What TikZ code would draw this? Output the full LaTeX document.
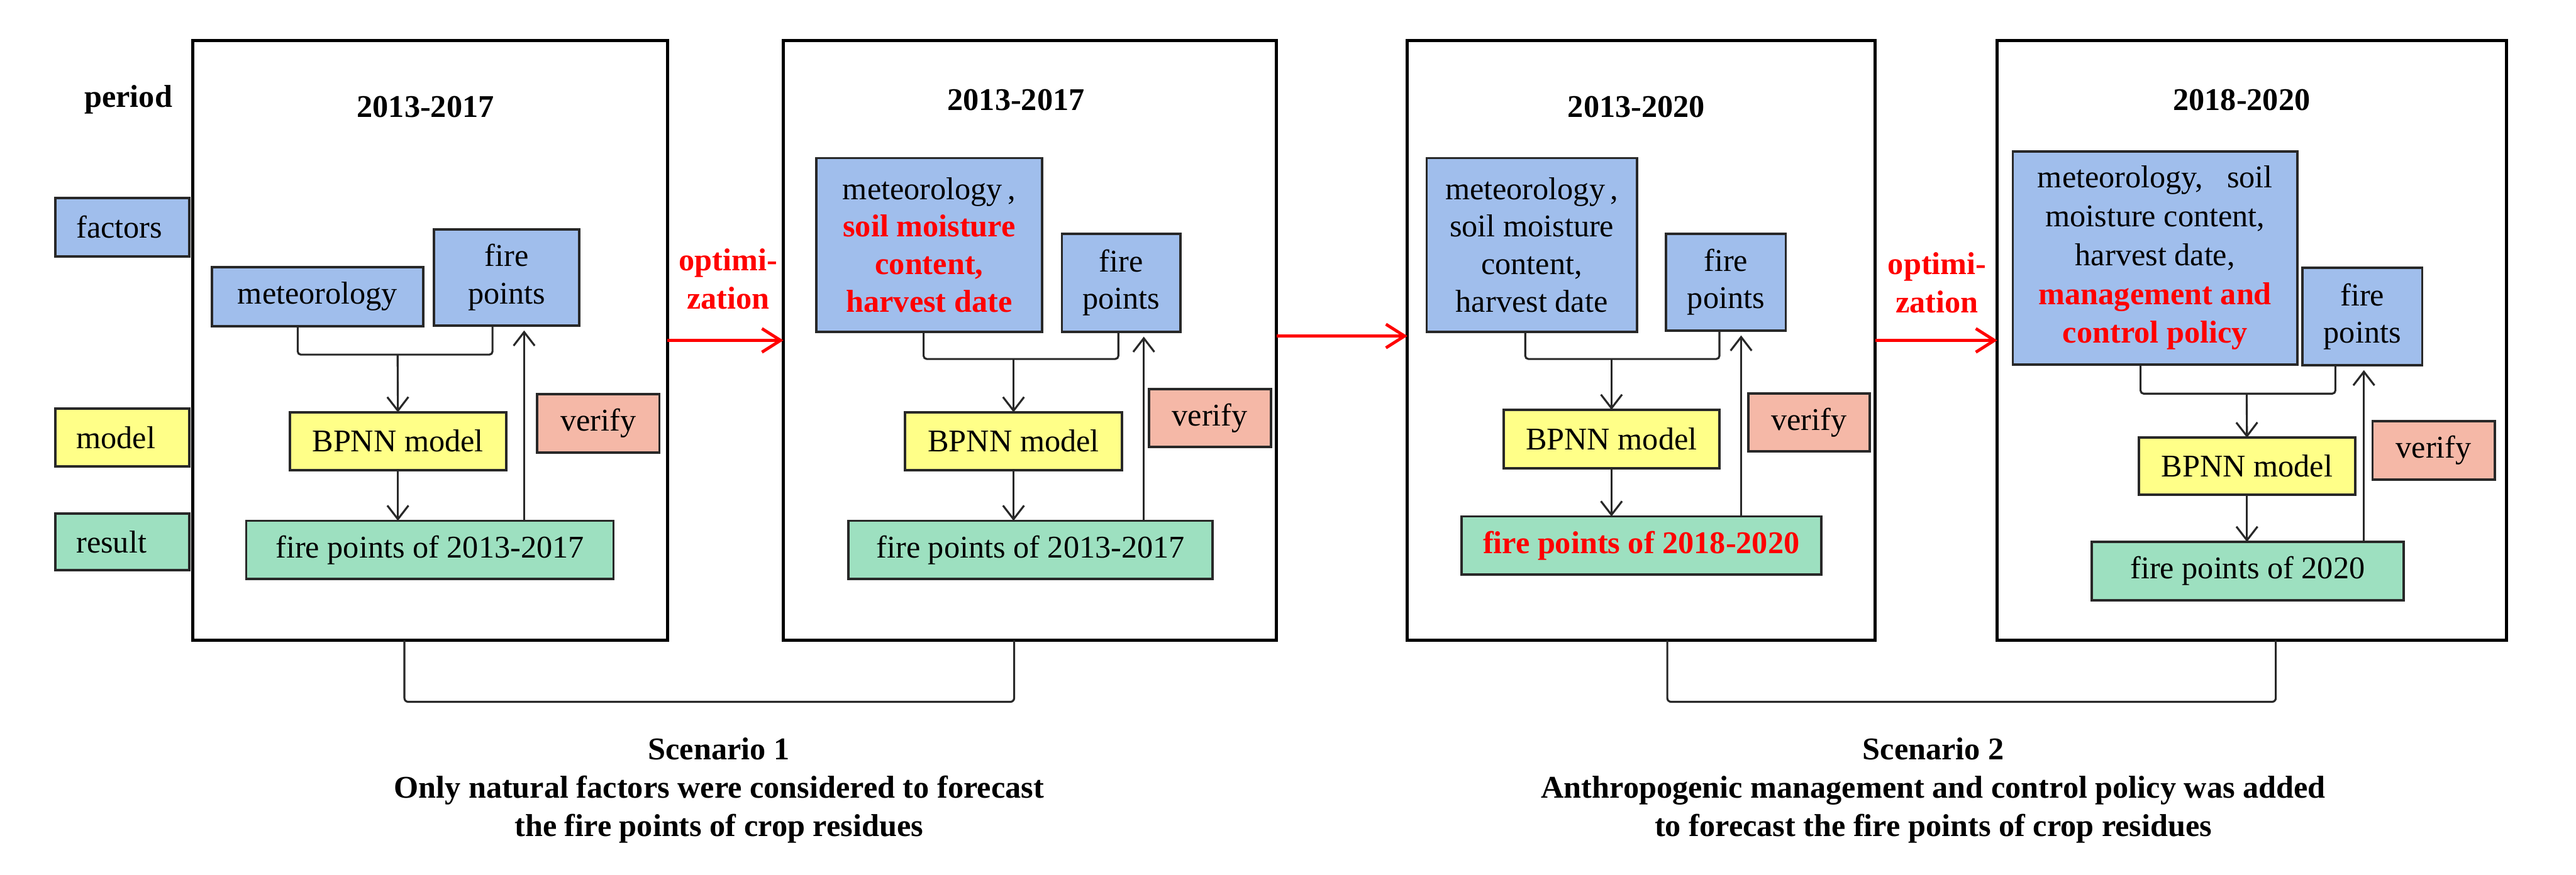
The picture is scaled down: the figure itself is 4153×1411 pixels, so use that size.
\documentclass[tikz,border=0pt]{standalone}
\usepackage{fontspec}
\setmainfont{Liberation Serif}
\usetikzlibrary{arrows.meta}
\definecolor{blueF}{RGB}{160,190,236}
\definecolor{yellowF}{RGB}{255,255,136}
\definecolor{pinkF}{RGB}{245,184,167}
\definecolor{greenF}{RGB}{157,224,192}
\definecolor{edgeC}{RGB}{40,40,40}
\newcommand{\rbox}[7]{\node[#2, minimum width={(#5-#3)*0.01cm}, minimum height={(#6-#4)*0.01cm}] (#1) at ({(#3+#5)/2},{(#4+#6)/2}) {#7};}
\tikzset{
  frame/.style={draw=black, line width=1.4pt, inner sep=0pt, outer sep=0pt},
  bx/.style={draw=edgeC, line width=1.1pt, inner sep=0pt, outer sep=0pt, align=center},
  fac/.style={bx, fill=blueF},
  mdl/.style={bx, fill=yellowF},
  rsl/.style={bx, fill=greenF},
  ver/.style={bx, fill=pinkF},
  leg/.style={text width=1.48cm, inner xsep=0.34cm, inner ysep=0pt, align=left},
  conn/.style={draw=edgeC, line width=0.9pt},
  arr/.style={conn, -{Straight Barb[length=0.22cm,width=0.34cm]}},
  redarr/.style={draw=red, line width=1.4pt, -{Straight Barb[length=0.3cm,width=0.38cm]}},
  ttl/.style={font=\fontsize{14.5pt}{17.6pt}\selectfont\bfseries},
  redtxt/.style={text=red, font=\fontsize{14.5pt}{17.6pt}\selectfont\bfseries, align=center},
  scen/.style={font=\fontsize{14.5pt}{17.6pt}\selectfont\bfseries, align=center},
  brk/.style={draw=edgeC, line width=0.9pt, rounded corners=0.06cm}
}
\begin{document}
\begin{tikzpicture}[x=0.01cm, y=-0.01cm, font=\fontsize{14.5pt}{17.2pt}\selectfont]
\useasboundingbox (0,0) rectangle (4153,1411);
\fill[white] (0,0) rectangle (4153,1411);

% frames
\rbox{f1}{frame}{311}{65}{1076}{1033}{}
\rbox{f2}{frame}{1263}{65}{2058}{1033}{}
\rbox{f3}{frame}{2269}{65}{3023}{1033}{}
\rbox{f4}{frame}{3220}{65}{4041}{1033}{}

% legend
\node[ttl] (period) at (207,161) {period};
\rbox{lfac}{fac,leg}{89}{319}{305}{414}{factors}
\rbox{lmod}{mdl,leg}{89}{659}{305}{752}{model}
\rbox{lres}{rsl,leg}{89}{828}{305}{920}{result}

% titles
\node[ttl] (t1) at (686,172) {2013-2017};
\node[ttl] (t2) at (1638,161) {2013-2017};
\node[ttl] (t3) at (2638,172) {2013-2020};
\node[ttl] (t4) at (3614,161) {2018-2020};

% frame 1
\rbox{fac1}{fac}{342}{431}{682}{526}{meteorology}
\rbox{fp1}{fac}{700}{370}{934}{525}{fire\\points}
\rbox{bp1}{mdl}{467}{665}{816}{758}{BPNN model}
\rbox{res1}{rsl}{397}{840}{989}{934}{fire points of 2013-2017}
\rbox{ver1}{ver}{866}{636}{1063}{730}{verify}

% frame 2
\rbox{fac2}{fac}{1316}{255}{1680}{535}{meteorology\,,\\\textcolor{red}{\bfseries soil moisture}\\\textcolor{red}{\bfseries content,}\\\textcolor{red}{\bfseries harvest date}}
\rbox{fp2}{fac}{1712}{377}{1903}{535}{fire\\points}
\rbox{bp2}{mdl}{1459}{665}{1809}{758}{BPNN model}
\rbox{res2}{rsl}{1368}{840}{1955}{934}{fire points of 2013-2017}
\rbox{ver2}{ver}{1852}{628}{2049}{721}{verify}

% frame 3
\rbox{fac3}{fac}{2300}{255}{2639}{535}{meteorology\,,\\soil moisture\\content,\\harvest date}
\rbox{fp3}{fac}{2686}{377}{2879}{533}{fire\\points}
\rbox{bp3}{mdl}{2424}{661}{2772}{755}{BPNN model}
\rbox{res3}{rsl}{2356}{833}{2936}{927}{\textcolor{red}{\bfseries fire points of 2018-2020}}
\rbox{ver3}{ver}{2819}{635}{3014}{728}{verify}

% frame 4
\rbox{fac4}{fac,font=\fontsize{14.5pt}{17.8pt}\selectfont}{3245}{244}{3704}{588}{meteorology,\enspace\ soil\\moisture content,\\harvest date,\\\textcolor{red}{\bfseries management and}\\\textcolor{red}{\bfseries control policy}}
\rbox{fp4}{fac}{3712}{432}{3905}{589}{fire\\points}
\rbox{bp4}{mdl}{3448}{706}{3797}{798}{BPNN model}
\rbox{res4}{rsl}{3372}{874}{3875}{968}{fire points of 2020}
\rbox{ver4}{ver}{3825}{679}{4022}{774}{verify}

% junction coordinates
\coordinate (j1) at (641,572);
\coordinate (j2) at (1634,579);
\coordinate (j3) at (2598,579);
\coordinate (j4) at (3622,635);

% frame 1 connectors
\draw[conn, rounded corners=0.05cm] (fac1.south -| 480,0) |- (j1) -| (fp1.south -| 794,0);
\draw[arr] (j1) -- (bp1.north);
\draw[arr] (bp1.south) -- (res1.north -| bp1.south);
\draw[arr, shorten >=0.08cm] (res1.north -| 845,0) -- (fp1.south -| 845,0);

% frame 2 connectors
\draw[conn, rounded corners=0.05cm] (fac2.south -| 1489,0) |- (j2) -| (fp2.south -| 1803,0);
\draw[arr] (j2) -- (bp2.north);
\draw[arr] (bp2.south) -- (res2.north -| bp2.south);
\draw[arr, shorten >=0.08cm] (res2.north -| 1844,0) -- (fp2.south -| 1844,0);

% frame 3 connectors
\draw[conn, rounded corners=0.05cm] (fac3.south -| 2459,0) |- (j3) -| (fp3.south -| 2772,0);
\draw[arr] (j3) -- (bp3.north);
\draw[arr] (bp3.south) -- (res3.north -| bp3.south);
\draw[arr, shorten >=0.08cm] (res3.north -| 2807,0) -- (fp3.south -| 2807,0);

% frame 4 connectors
\draw[conn, rounded corners=0.05cm] (fac4.south -| 3451,0) |- (j4) -| (fp4.south -| 3765,0);
\draw[arr] (j4) -- (bp4.north);
\draw[arr] (bp4.south) -- (res4.north -| bp4.south);
\draw[arr, shorten >=0.08cm] (res4.north -| 3811,0) -- (fp4.south -| 3811,0);

% optimization arrows
\draw[redarr] (f1.east |- 0,549) -- (f2.west |- 0,549);
\draw[redarr] (f2.east |- 0,542) -- (f3.west |- 0,542);
\draw[redarr] (f3.east |- 0,549) -- (f4.west |- 0,549);
\node[redtxt] (opt1) at (1174,450) {optimi-\\zation};
\node[redtxt] (opt2) at (3123,456) {optimi-\\zation};

% scenario brackets
\coordinate (s1) at (1143,1132);
\coordinate (s2) at (3178,1132);
\draw[brk] (f1.south -| 652,0) |- (s1) -| (f2.south -| 1635,0);
\draw[brk] (f3.south -| 2688,0) |- (s2) -| (f4.south -| 3669,0);

\node[scen] (sc1) at (1159,1275) {Scenario 1\\Only natural factors were considered to forecast\\the fire points of crop residues};
\node[scen] (sc2) at (3117,1275) {Scenario 2\\Anthropogenic management and control policy was added\\to forecast the fire points of crop residues};
\end{tikzpicture}
\end{document}
